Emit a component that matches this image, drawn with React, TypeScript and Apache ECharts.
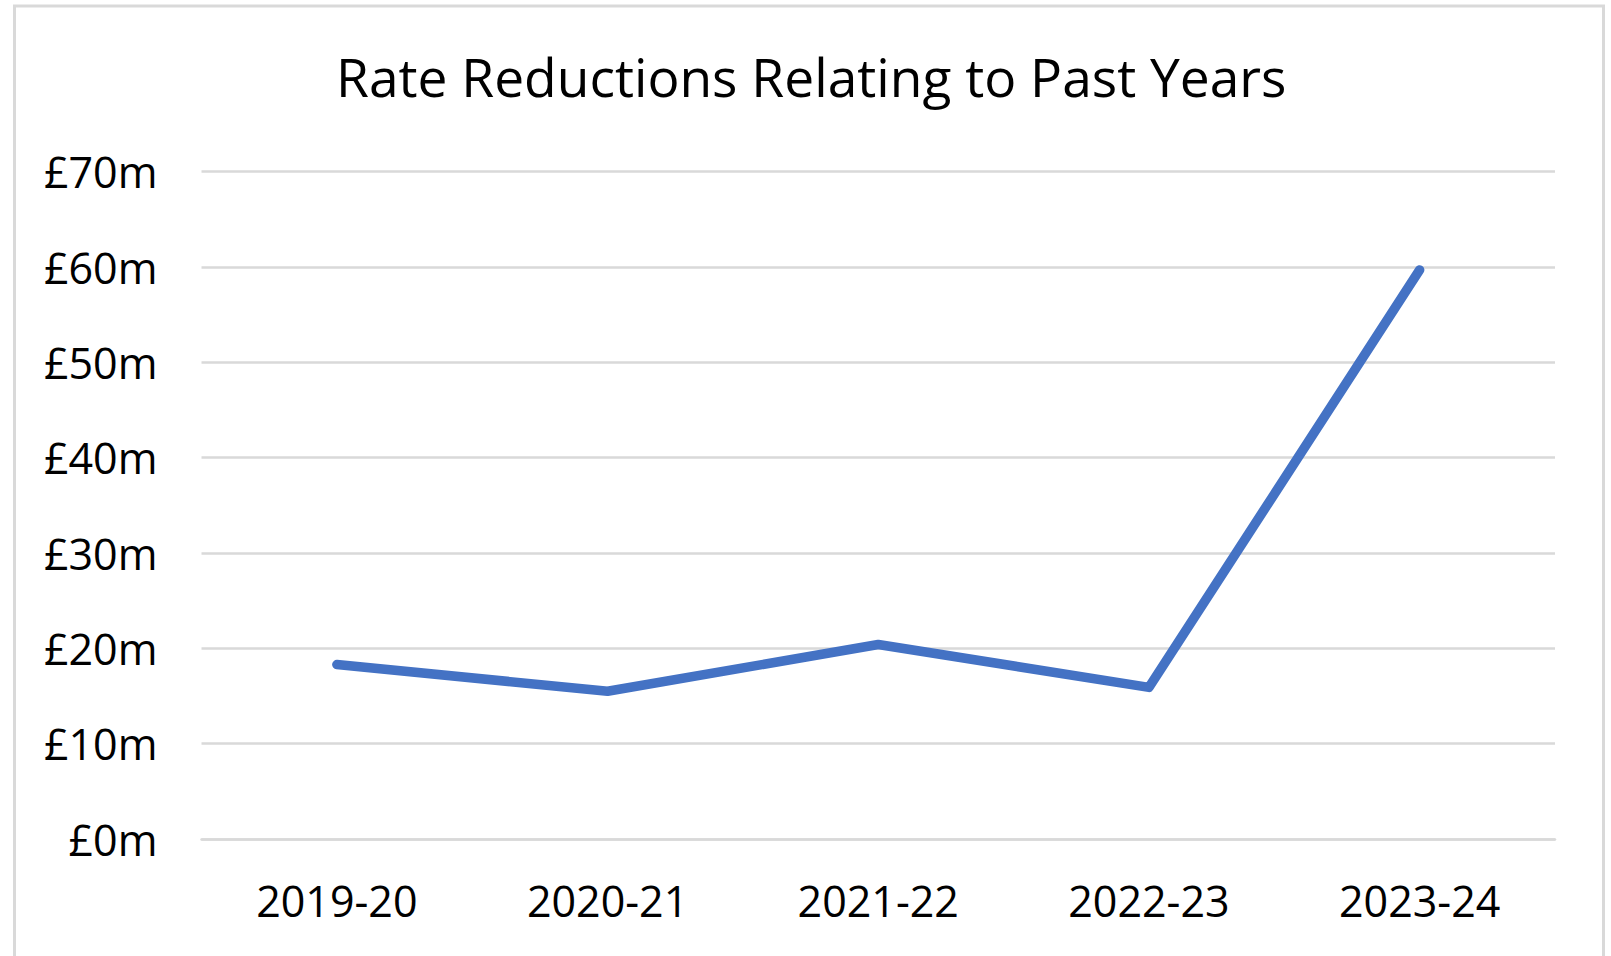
import React, { useEffect, useRef } from "react";
import * as echarts from "echarts";

const categories = ["2019-20", "2020-21", "2021-22", "2022-23", "2023-24"];
const values = [18.3, 15.5, 20.4, 15.9, 59.7];
const titleText = "Rate Reductions Relating to Past Years";

export default function App() {
  const ref = useRef<HTMLDivElement>(null);
  useEffect(() => {
    document.body.style.margin = "0";
    document.documentElement.style.overflow = "hidden";
    document.body.style.overflow = "hidden";
    if (!ref.current) return;
    const chart = echarts.init(ref.current, undefined, { renderer: "svg" });
    const font = "'Open Sans', 'Liberation Sans', sans-serif";
    chart.setOption({
      animation: false,
      backgroundColor: "#ffffff",
      title: {
        text: titleText,
        left: 331,
        top: 45,
        textStyle: { fontFamily: font, fontSize: 53.3, fontWeight: "normal", color: "#000000" },
      },
      graphic: [
        {
          type: "rect",
          shape: { x: 14.5, y: 6, width: 1589, height: 1000 },
          style: { fill: "none", stroke: "#D9D9D9", lineWidth: 3 },
        },
      ],
      grid: { left: 201.5, right: 56, top: 171.7, bottom: 117 },
      xAxis: {
        type: "category",
        data: categories,
        boundaryGap: true,
        axisLine: { show: true, lineStyle: { color: "#D9D9D9", width: 2.5 } },
        axisTick: { show: false },
        axisLabel: { fontFamily: font, fontSize: 43, color: "#000000", margin: 40, lineHeight: 43 },
      },
      yAxis: {
        type: "value",
        min: 0,
        max: 70,
        interval: 10,
        axisLine: { show: false },
        axisTick: { show: false },
        splitLine: { lineStyle: { color: "#D9D9D9", width: 2.5 } },
        axisLabel: {
          fontFamily: font,
          fontSize: 43,
          color: "#000000",
          margin: 44,
          formatter: (v: number) => `£${v}m`,
        },
      },
      series: [
        {
          type: "line",
          data: values,
          symbol: "none",
          lineStyle: { color: "#4472C4", width: 9.5, cap: "round", join: "round" },
        },
      ],
    });
    return () => chart.dispose();
  }, []);
  return (
    <div
      ref={ref}
      style={{ position: "absolute", left: 0, top: 0, width: 1611, height: 956 }}
    />
  );
}
